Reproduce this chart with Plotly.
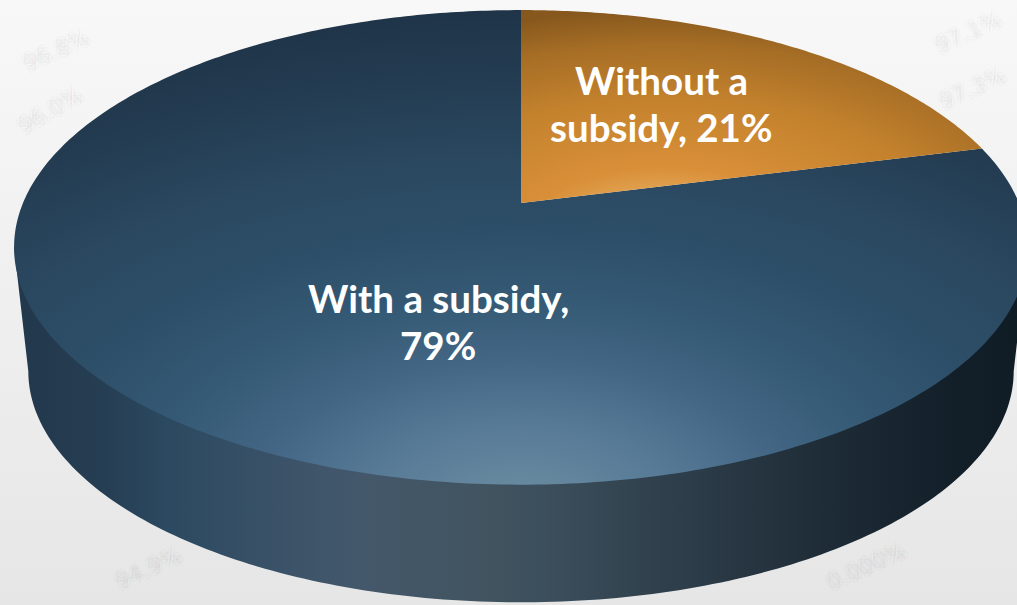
import numpy as np
import plotly.graph_objects as go

# Slices in drawing order, clockwise from twelve o'clock
categories = ["Without a subsidy", "With a subsidy"]
shares = [21, 79]

# Pale figures printed behind the disc: label, centre x, centre y, tilt
backdrop_labels = ["96.8%", "96.0%", "94.9%", "0.000%", "97.1%", "97.3%"]
backdrop_x = [56, 50, 148, 866, 968, 972]
backdrop_y = [50, 110, 568, 566, 32, 88]
backdrop_tilt = [-24, -30, -24, -24, -24, -24]

WIDTH, HEIGHT = 1017, 605

# Tilted disc: apex of the top face, half axes, foreshortening strength
TOP = dict(cx=521, cy=203, a=498, b=229)
UNDER = dict(cx=521, cy=203, a=488, b=224)
BOTTOM = dict(cx=521, cy=328, a=484, b=223)
K = 0.187

wall_stops = [[0, "#22384c"], [0.09, "#263e53"], [0.15, "#2b4960"], [0.26, "#3a5268"],
              [0.34, "#44586b"], [0.46, "#415460"], [0.52, "#3c4f5c"], [0.67, "#2c3c48"],
              [0.80, "#1e2c37"], [0.93, "#121f29"], [1, "#101c24"]]
blue_stops = [[0, "#6f8fab"], [0.05, "#67899f"], [0.18, "#567996"], [0.3, "#426684"],
              [0.42, "#355a75"], [0.55, "#2e4f69"], [0.7, "#2a4860"], [0.85, "#243d53"],
              [1, "#1f3448"]]
orange_stops = [[0, "#eeb672"], [0.18, "#e2a555"], [0.3, "#d98f38"], [0.6, "#c4822d"],
                [0.85, "#a56d25"], [1, "#87581d"]]


def project(theta, disc):
    """Map an angle on the disc (radians, clockwise from the far point) to the page."""
    u, v = np.sin(theta), np.cos(theta)
    w = 1 + K * v
    return disc["cx"] + disc["a"] * u / w, disc["cy"] - disc["b"] * v / w


def widen(xs, ys, extents):
    """Append zero-area spurs so the radial fill is centred where the light falls."""
    xs, ys = list(xs), list(ys)
    x0, y0 = xs[-1], ys[-1]
    for ex, ey in extents:
        xs += [ex, x0]
        ys += [ey, y0]
    return xs, ys


def gradient_area(xs, ys, kind, stops, **extra):
    return go.Scatter(
        x=xs, y=ys, mode="lines", fill="toself", line=dict(width=0, simplify=False),
        fillgradient=dict(type=kind, colorscale=stops, **extra),
        hoverinfo="skip", showlegend=False,
    )


fig = go.Figure()

# Backdrop
fig.add_trace(gradient_area([0, WIDTH, WIDTH, 0, 0], [0, 0, HEIGHT, HEIGHT, 0], "vertical",
                            [[0, "#e6e6e6"], [1, "#f8f8f8"]]))

# Soft figures behind the disc, a few offset copies at low alpha
for label, lx, ly, tilt in zip(backdrop_labels, backdrop_x, backdrop_y, backdrop_tilt):
    for dx, dy in [(-3, 0), (3, 0), (0, -3), (0, 3), (0, 0)]:
        fig.add_annotation(x=lx + dx, y=ly + dy, text=label, textangle=tilt, showarrow=False,
                           font=dict(family="DejaVu Sans", size=22, color="rgba(120,120,120,0.05)"))

# Side wall: front half of the rim; its upper edge is tucked beneath the top face
front = np.radians(np.linspace(90 + np.degrees(np.arcsin(K)), 270 - np.degrees(np.arcsin(K)), 180))
rim_x, rim_y = project(front, TOP)
ux, uy = project(front, UNDER)
bx, by = project(front[::-1], BOTTOM)
fig.add_trace(gradient_area(np.r_[rim_x[0], ux, rim_x[-1], bx, rim_x[0]],
                            np.r_[rim_y[0], uy, rim_y[-1], by, rim_y[0]],
                            "horizontal", wall_stops))

# Slices on the top face, angles taken from the shares
edges = np.cumsum([0] + shares) / sum(shares) * 2 * np.pi
theta0 = np.linspace(edges[0], edges[1], 120)
theta1 = np.linspace(edges[1], edges[2], 360)

ox, oy = project(theta0, TOP)
ox, oy = np.r_[TOP["cx"], ox, TOP["cx"]], np.r_[TOP["cy"], oy, TOP["cy"]]
ox, oy = widen(ox, oy, [(200, 460), (1130, 10)])

sx, sy = project(theta1, TOP)
sx, sy = np.r_[TOP["cx"], sx, TOP["cx"]], np.r_[TOP["cy"], sy, TOP["cy"]]
sx, sy = widen(sx, sy, [(-380, 1010), (1420, 10)])

fig.add_trace(gradient_area(sx, sy, "radial", blue_stops))
fig.add_trace(gradient_area(ox, oy, "radial", orange_stops))

# Slice labels, one annotation per line
FONT = dict(family="Lato, Open Sans, sans-serif", size=38.5, color="white", weight=700)
label_lines = [
    (661, 80, "Without a"),
    (661, 127, f"subsidy, {shares[0]}%"),
    (438, 298, "With a subsidy,"),
    (438, 345, f"{shares[1]}%"),
]
for lx, ly, line in label_lines:
    fig.add_annotation(x=lx, y=ly, text=line, showarrow=False, font=FONT)

fig.update_layout(
    width=WIDTH, height=HEIGHT, margin=dict(l=0, r=0, t=0, b=0),
    paper_bgcolor="#f0f0f0", plot_bgcolor="#f0f0f0",
    xaxis=dict(range=[0, WIDTH], visible=False),
    yaxis=dict(range=[HEIGHT, 0], visible=False),
)
fig.write_html("out.html")
